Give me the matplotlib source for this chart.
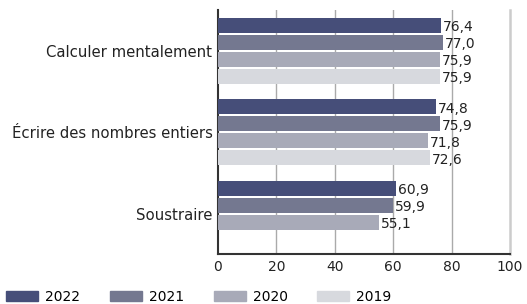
import matplotlib
matplotlib.use("Agg")
import matplotlib.pyplot as plt
import numpy as np

categories = ["Calculer mentalement", "Écrire des nombres entiers", "Soustraire"]
years = ["2022", "2021", "2020", "2019"]
v2022 = [76.4, 74.8, 60.9]
v2021 = [77.0, 75.9, 59.9]
v2020 = [75.9, 71.8, 55.1]
v2019 = [75.9, 72.6, None]
series = [v2022, v2021, v2020, v2019]
colors = ["#464e79", "#747890", "#a8aab8", "#d7d9de"]

plt.rcParams['font.family'] = ['DejaVu Sans']
fig = plt.figure(figsize=(5.27, 3.04), dpi=100)
ax = fig.add_axes([218/527, 50/304, 292/527, 244/304])

group_pitch = 4.8
centers = 2.4 + group_pitch*np.arange(len(categories))
h = 0.88
handles = []
for j, (vals, col, yr) in enumerate(zip(series, colors, years)):
    for i, v in enumerate(vals):
        if v is None:
            continue
        y = centers[i] + (j-1.5)
        ax.barh(y, v, height=h, color=col, zorder=3)
        ax.text(v + 0.6, y + 0.1, f"{v:.1f}".replace(".", ","), va="center", ha="left",
                fontsize=10, color="#222222", zorder=4)
    handles.append(plt.Rectangle((0, 0), 1, 1, color=col, label=yr))

ax.set_ylim(14.35, 0)
ax.set_xlim(0, 100)
ax.set_yticks(centers)
ax.set_yticklabels(categories, fontsize=10.7, color="#222222")
ax.set_xticks([0, 20, 40, 60, 80, 100])
ax.set_xticklabels(["0", "20", "40", "60", "80", "100"], fontsize=10, color="#222222")
ax.tick_params(axis="both", length=0)
ax.tick_params(axis="x", pad=4)
ax.tick_params(axis="y", pad=4)
for x in [20, 40, 60, 80]:
    ax.axvline(x, color="#aaaaaa", lw=1, zorder=1)
ax.spines["top"].set_visible(False)
ax.spines["right"].set_color("#cccccc")
ax.spines["right"].set_linewidth(1.8)
ax.spines["left"].set_color("#333333")
ax.spines["left"].set_linewidth(1.5)
ax.spines["bottom"].set_color("#333333")
ax.spines["bottom"].set_linewidth(1.5)

fig.legend(handles=handles, loc="lower left", bbox_to_anchor=(6/527, 0/304), ncol=4,
           frameon=False, fontsize=10, handlelength=2.3, handleheight=0.8,
           handletextpad=0.5, columnspacing=2.15, borderpad=0, borderaxespad=0)

fig.savefig("out.png", dpi=100)
